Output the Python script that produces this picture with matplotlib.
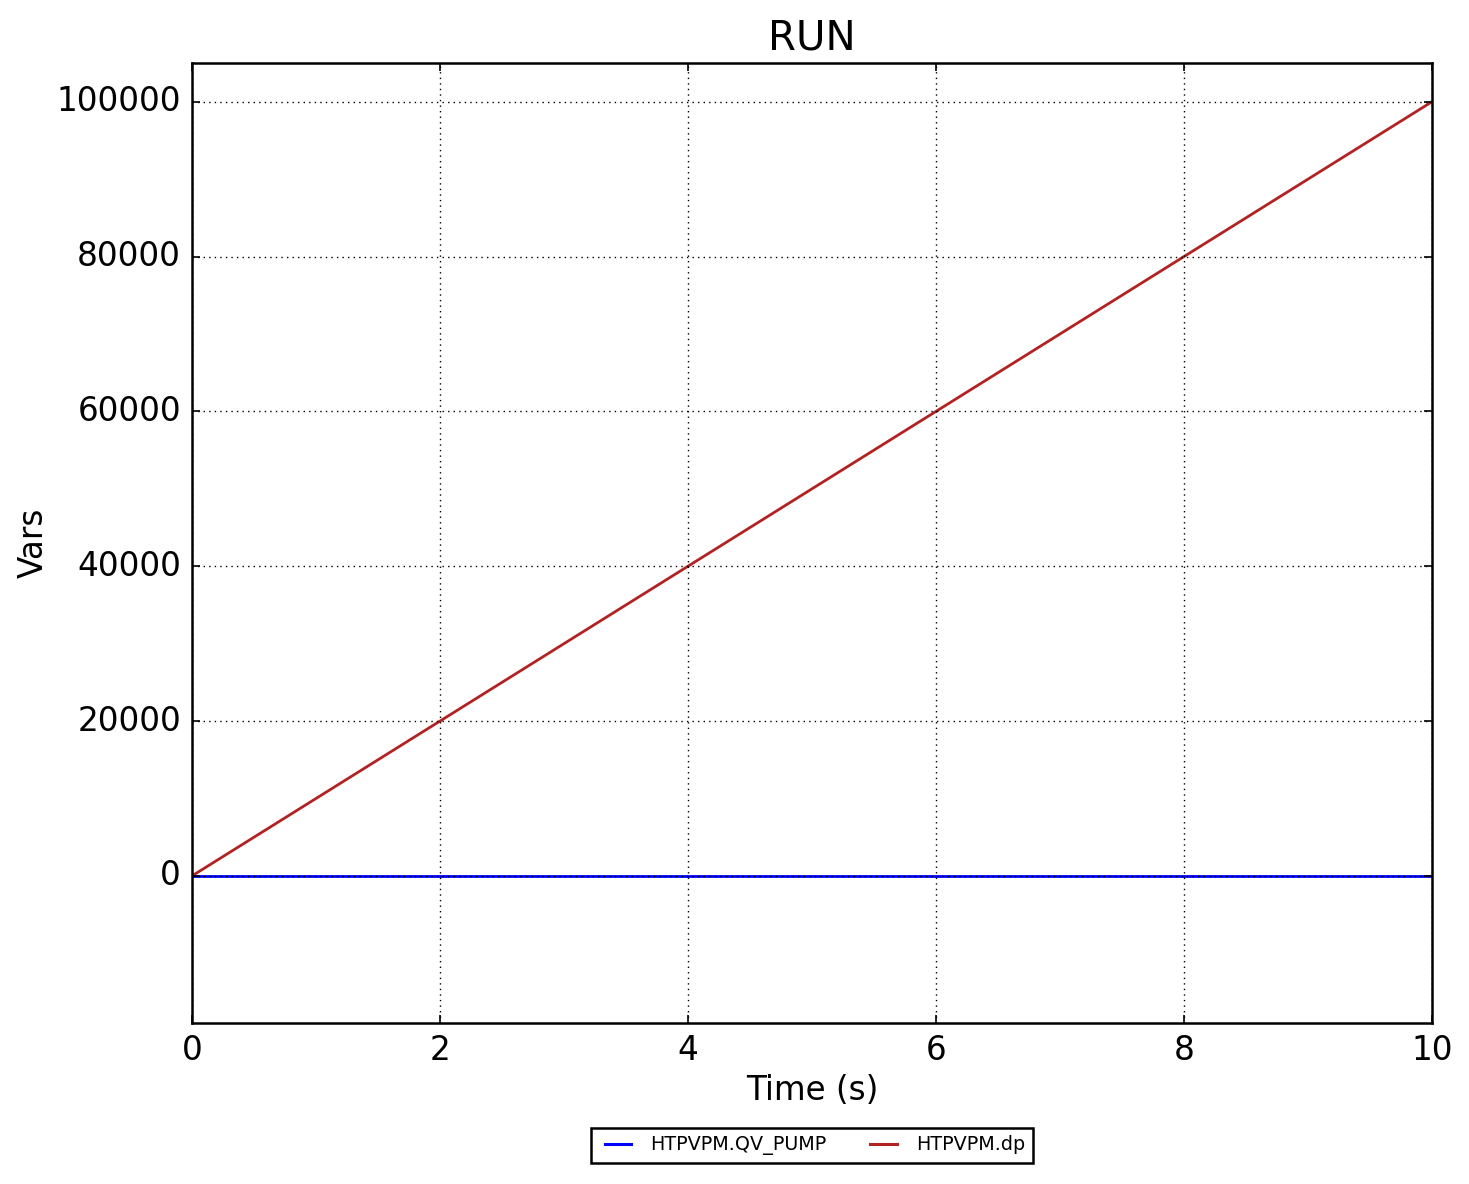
import matplotlib
matplotlib.use('Agg')
import matplotlib.pyplot as plt

plt.style.use('classic')

# data
time = [0, 2, 4, 6, 8, 10]
qv_pump = [0, 0, 0, 0, 0, 0]
dp = [0, 20000, 40000, 60000, 80000, 100000]

fig = plt.figure(figsize=(14.69, 11.84), dpi=100, facecolor='white')
ax = fig.add_axes([192/1469, 1 - 1023/1184, (1432-192)/1469, (1023-63)/1184])

ax.plot(time, qv_pump, color='blue', linewidth=2.0, label='HTPVPM.QV_PUMP')
ax.plot(time, dp, color='#b22222', linewidth=2.0, label='HTPVPM.dp')

ax.set_xlim(0, 10)
ax.set_ylim(-19000, 105000)
ax.set_yticks([0, 20000, 40000, 60000, 80000, 100000])
ax.grid(True, color='black', linestyle=':', linewidth=1.0)
for s in ax.spines.values():
    s.set_linewidth(1.8)
ax.tick_params(labelsize=23.5, width=1.2, length=6, pad=8)

ax.set_title('RUN', fontsize=29, pad=9.6)
ax.set_xlabel('Time (s)', fontsize=23.5)
ax.set_ylabel('Vars', fontsize=23.5)

leg = ax.legend(loc='upper center', bbox_to_anchor=(0.5, -0.109), ncol=2,
                fontsize=13.8, borderaxespad=0, handlelength=2.0,
                columnspacing=1.95, handletextpad=0.7, framealpha=1)
leg.get_frame().set_linewidth(1.8)
for h in leg.get_lines():
    h.set_linewidth(2.2)

fig.savefig('out.png', dpi=100, facecolor='white')
